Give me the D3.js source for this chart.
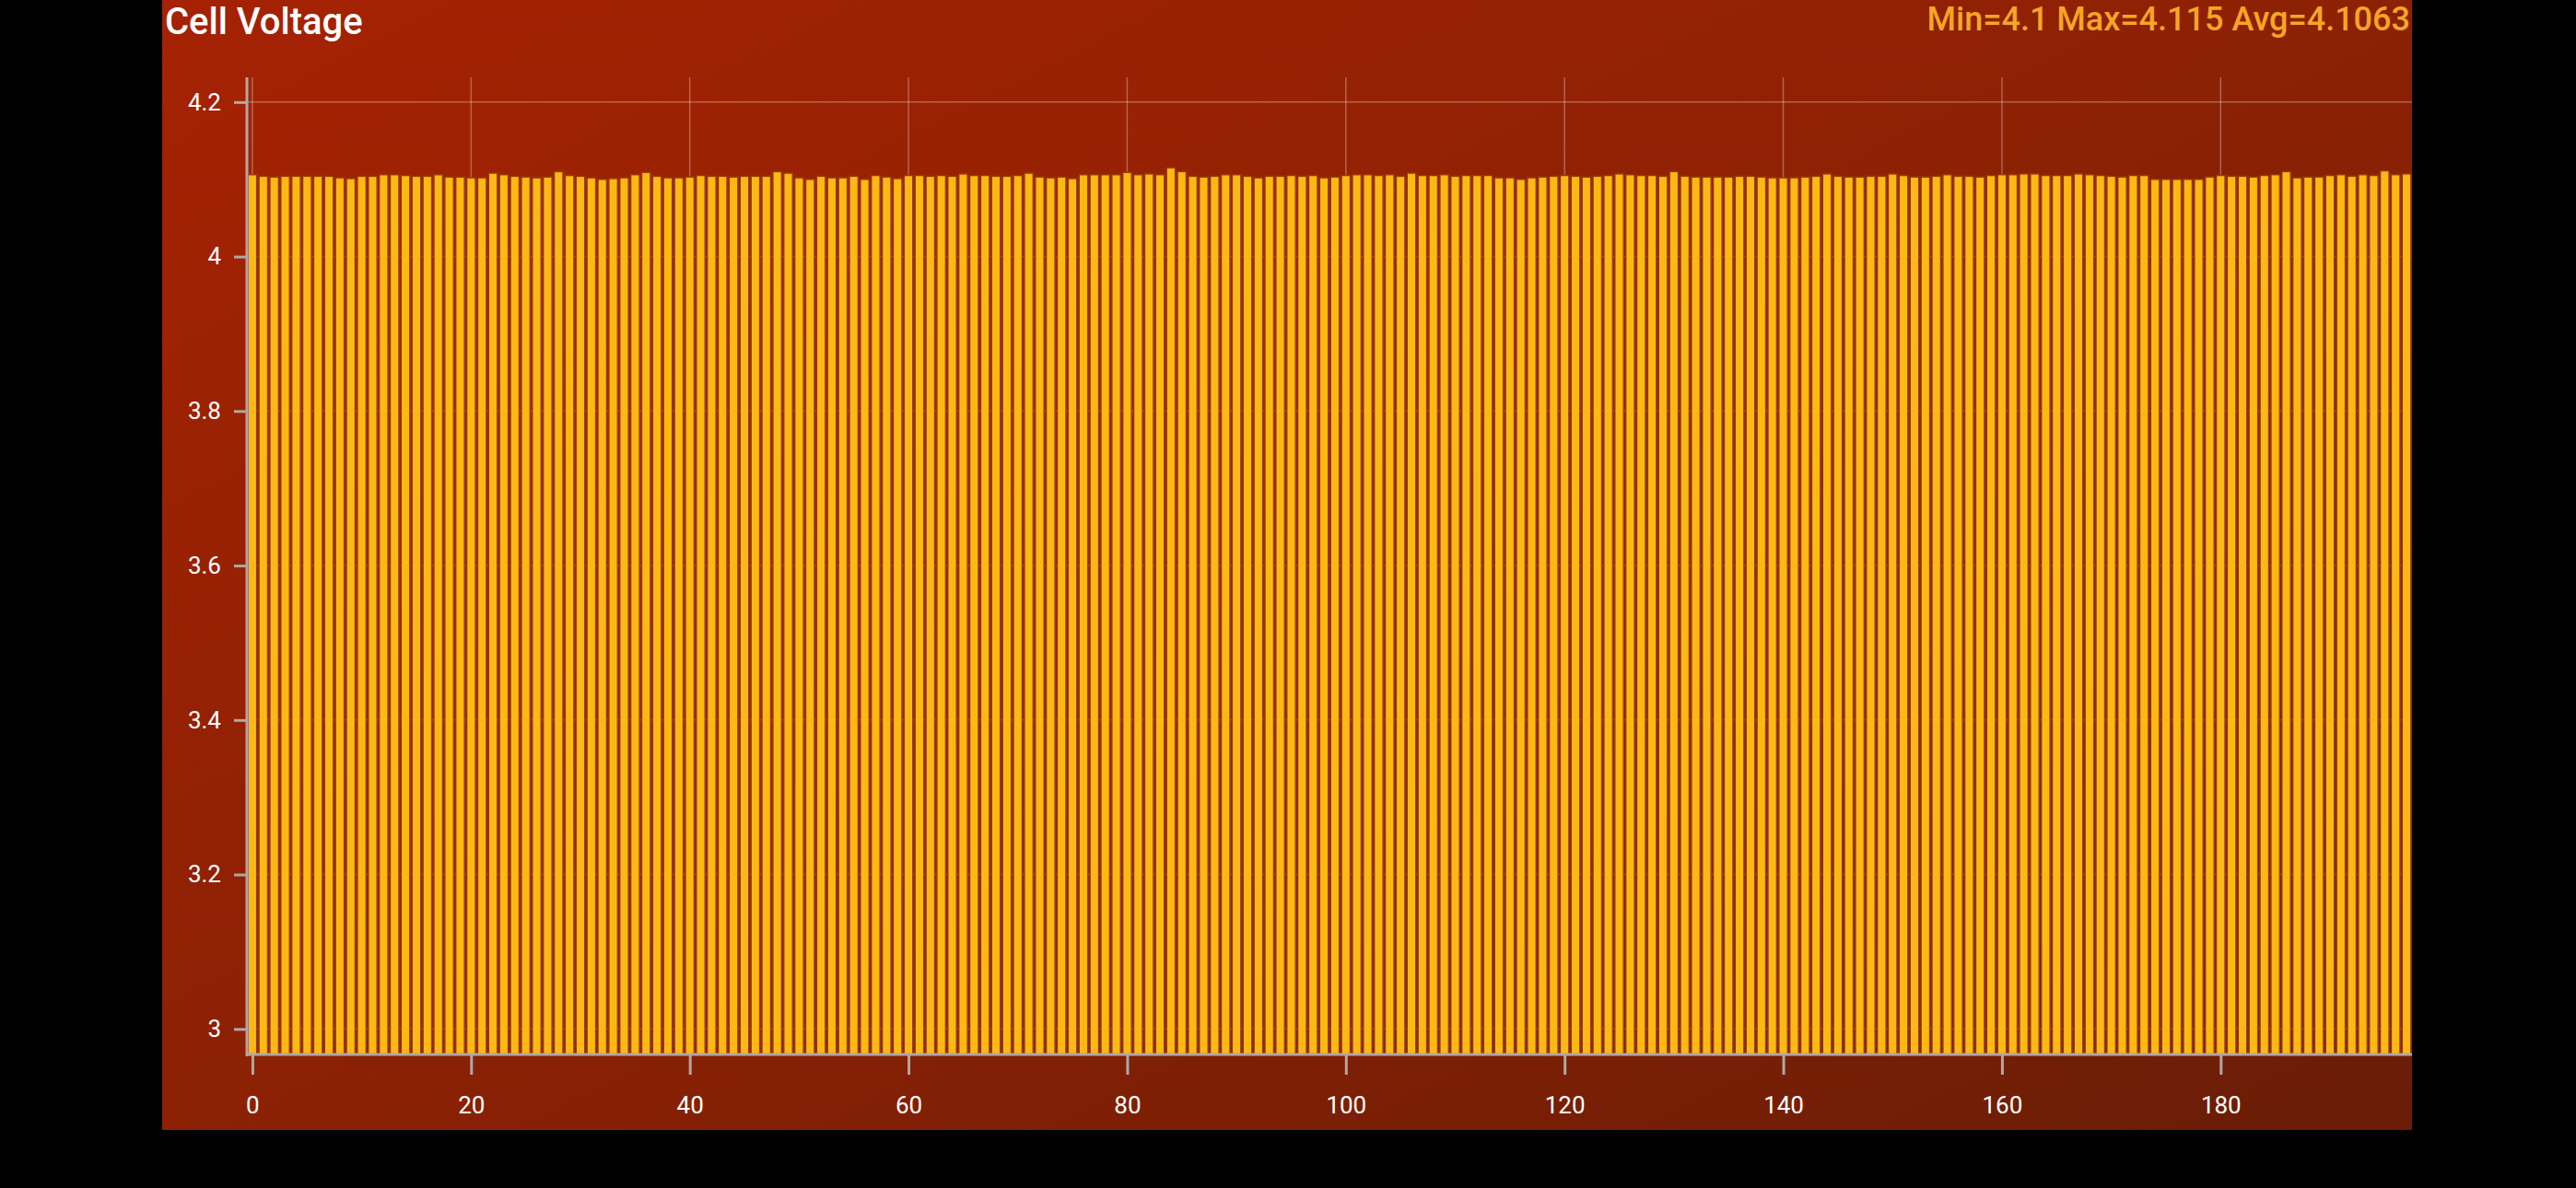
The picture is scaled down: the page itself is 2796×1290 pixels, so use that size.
<!DOCTYPE html>
<html><head><meta charset="utf-8">
<script src="https://cdn.jsdelivr.net/npm/d3@7"></script>
<style>html,body{margin:0;background:#000;overflow:hidden}</style>
</head><body><svg id="c" width="2796" height="1290"></svg>
<script>
const title = "Cell Voltage";
const statsLabel = "Min=4.1 Max=4.115 Avg=4.1063";
const yTicks = [3, 3.2, 3.4, 3.6, 3.8, 4, 4.2];
const xTicks = [0, 20, 40, 60, 80, 100, 120, 140, 160, 180];
const voltages = [
4.106,4.104,4.103,4.104,4.104,4.104,4.104,4.104,4.102,4.101,4.104,4.104,4.106,4.106,4.105,4.104,4.104,4.106,4.103,4.103,4.102,4.102,4.108,4.106,4.104,
4.103,4.102,4.103,4.110,4.105,4.104,4.102,4.100,4.101,4.102,4.106,4.109,4.104,4.102,4.102,4.103,4.105,4.104,4.104,4.103,4.104,4.104,4.104,4.110,4.108,
4.102,4.100,4.104,4.102,4.102,4.104,4.100,4.105,4.103,4.101,4.105,4.105,4.104,4.105,4.104,4.107,4.105,4.105,4.104,4.104,4.105,4.108,4.103,4.102,4.103,
4.101,4.106,4.106,4.106,4.106,4.109,4.106,4.107,4.106,4.115,4.110,4.104,4.103,4.104,4.106,4.106,4.104,4.102,4.104,4.104,4.105,4.104,4.105,4.102,
4.103,4.105,4.106,4.106,4.105,4.106,4.104,4.108,4.105,4.105,4.106,4.104,4.105,4.105,4.105,4.102,4.102,4.100,4.102,4.103,4.104,4.105,4.104,4.103,4.104,
4.105,4.107,4.106,4.105,4.105,4.104,4.110,4.104,4.103,4.103,4.103,4.103,4.104,4.104,4.103,4.102,4.102,4.102,4.103,4.104,4.107,4.104,4.103,4.103,4.104,
4.104,4.107,4.105,4.103,4.103,4.104,4.106,4.104,4.104,4.103,4.105,4.106,4.106,4.107,4.107,4.105,4.105,4.105,4.107,4.106,4.105,4.104,4.103,4.105,4.105,
4.100,4.100,4.100,4.100,4.100,4.103,4.105,4.104,4.104,4.103,4.105,4.106,4.110,4.102,4.103,4.103,4.105,4.106,4.104,4.106,4.105,4.111,4.106,4.107
];

const svg = d3.select("#c");
const P = {x0:176, x1:2618, y0:0, y1:1227};
const M = {left:268, right:2618, top:84, bottom:1145};

const defs = svg.append("defs");
const g = defs.append("linearGradient").attr("id","bg").attr("x1","0").attr("y1","0").attr("x2","1").attr("y2","1");
g.append("stop").attr("offset","0").attr("stop-color","#a52203");
g.append("stop").attr("offset","0.5").attr("stop-color","#8c2104");
g.append("stop").attr("offset","1").attr("stop-color","#6a1d07");
defs.append("clipPath").attr("id","clip").append("rect")
  .attr("x",M.left).attr("y",M.top).attr("width",M.right-M.left).attr("height",M.bottom-M.top);

svg.append("rect").attr("x",P.x0).attr("y",P.y0).attr("width",P.x1-P.x0).attr("height",P.y1-P.y0).attr("fill","url(#bg)");

const x = d3.scaleLinear().domain([-0.5, 197.5]).range([M.left, M.right]);
const y = d3.scaleLinear().domain([2.967, 4.232]).range([M.bottom, M.top]);

// grid
svg.append("g").selectAll("line").data(yTicks).join("line")
  .attr("x1",M.left).attr("x2",M.right).attr("y1",d=>y(d)).attr("y2",d=>y(d))
  .attr("stroke","rgba(255,255,255,0.3)").attr("stroke-width",1.5);
svg.append("g").selectAll("line").data(xTicks).join("line")
  .attr("y1",M.top).attr("y2",M.bottom).attr("x1",d=>x(d)).attr("x2",d=>x(d))
  .attr("stroke","rgba(255,255,255,0.3)").attr("stroke-width",1.5);

// bars
const bw = x(0.8)-x(0);
svg.append("g").attr("clip-path","url(#clip)").selectAll("rect").data(voltages).join("rect")
  .attr("x",(d,i)=>x(i)-bw/2).attr("width",bw)
  .attr("y",d=>y(d)).attr("height",d=>M.bottom-y(d))
  .attr("fill","#fdb913").attr("stroke","#9a3a04").attr("stroke-width",1.5);

// axes
const yAx = svg.append("g").attr("transform",`translate(${M.left},0)`)
  .call(d3.axisLeft(y).tickValues(yTicks).tickSize(14).tickPadding(14).tickFormat(d3.format("~g")));
const xAx = svg.append("g").attr("transform",`translate(0,${M.bottom})`)
  .call(d3.axisBottom(x).tickValues(xTicks).tickSize(22).tickPadding(24).tickFormat(d3.format("d")));
[yAx,xAx].forEach(a=>{
  a.select(".domain").remove();
  a.selectAll(".tick line").attr("stroke","#b0a8a4").attr("stroke-width",3);
  a.selectAll("text").attr("fill","#fff").attr("font-family","Roboto, sans-serif").attr("font-size",26);
});
svg.append("line").attr("x1",M.left).attr("x2",M.left).attr("y1",M.top).attr("y2",M.bottom+2).attr("stroke","#b0a8a4").attr("stroke-width",3);
svg.append("line").attr("x1",M.left).attr("x2",M.right).attr("y1",M.bottom).attr("y2",M.bottom).attr("stroke","#b0a8a4").attr("stroke-width",3);

svg.append("text").attr("x",179).attr("y",37).text(title)
  .attr("fill","#fff").attr("font-family","Roboto, sans-serif").attr("font-weight","500").attr("font-size",40);
svg.append("text").attr("x",2616).attr("y",33).attr("text-anchor","end").text(statsLabel)
  .attr("fill","#f6a524").attr("font-family","Roboto, sans-serif").attr("font-weight","500").attr("font-size",36);
</script></body></html>
